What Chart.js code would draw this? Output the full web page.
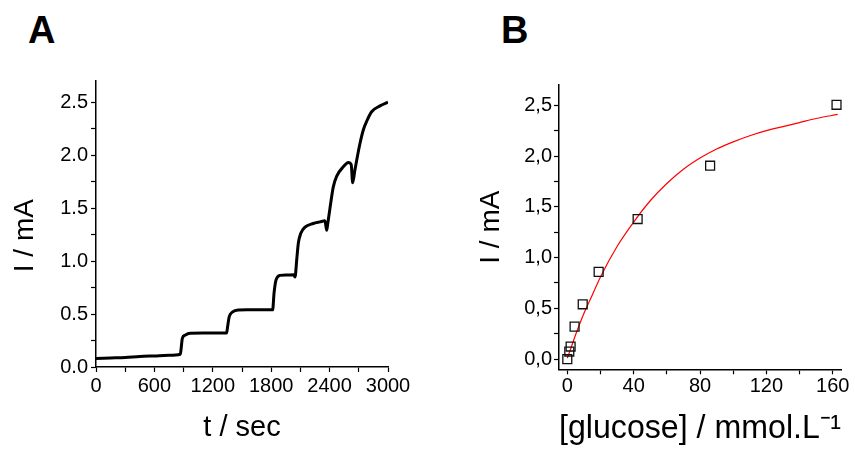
<!DOCTYPE html>
<html lang="en">
<head>
<meta charset="UTF-8">
<title>Glucose response</title>
<script src="https://cdn.jsdelivr.net/npm/chart.js"></script>
<style>
    body { margin: 0; background: #fff; }
    .painel { position: absolute; top: 0; }
    .letra { position: absolute; top: 11px; font: bold 38px/1 "Liberation Sans", Arial, sans-serif; color: #000; }
</style>
</head>
<body>
<div class="letra" style="left:28px">A</div>
<div class="letra" style="left:501px">B</div>
<canvas id="graficoA" class="painel" style="left:0" width="420" height="450"></canvas>
<canvas id="graficoB" class="painel" style="left:430px" width="425" height="450"></canvas>

<script>
    // panel A: current vs time
    var tempo = [0, 150, 300, 450, 600, 750, 866, 873, 887, 914, 966, 1100, 1250, 1342,
        1352, 1369, 1404, 1462, 1550, 1700, 1815, 1829, 1849, 1890, 1960, 2030, 2045,
        2062, 2079, 2103, 2147, 2232, 2300, 2352, 2370, 2382, 2404, 2438, 2472, 2541,
        2592, 2622, 2637, 2660, 2678, 2712, 2747, 2781, 2832, 2918, 3000];
    var corrente = [0.08, 0.085, 0.09, 0.10, 0.105, 0.11, 0.12, 0.16, 0.27, 0.30, 0.318, 0.32, 0.32, 0.32,
        0.38, 0.475, 0.52, 0.538, 0.54, 0.54, 0.54, 0.695, 0.82, 0.865, 0.868, 0.87, 0.85,
        1.01, 1.17, 1.26, 1.32, 1.355, 1.37, 1.38, 1.29, 1.36, 1.50, 1.70, 1.80, 1.89,
        1.93, 1.91, 1.74, 1.86, 1.95, 2.11, 2.24, 2.32, 2.41, 2.465, 2.50];

    // panel B: calibration points and fitted curve
    var glicose = [0, 1.2, 2.0, 4.4, 9.3, 18.9, 42.4, 86.1, 162.3];
    var correnteB = [0.0, 0.075, 0.124, 0.32, 0.54, 0.86, 1.38, 1.905, 2.505];
    var ajusteX = [0, 2, 5, 10, 15, 20, 30, 40, 50, 60, 70, 80, 90, 100, 110, 120, 130, 140, 150, 163];
    var ajusteY = [0.01, 0.10, 0.24, 0.45, 0.63, 0.81, 1.11, 1.35, 1.56, 1.73, 1.87, 1.98, 2.07, 2.14, 2.20, 2.25, 2.29, 2.33, 2.37, 2.41];

    // tick marks (all) and the ones that get a label
    var marcasTempo = [0, 300, 600, 900, 1200, 1500, 1800, 2100, 2400, 2700, 3000];
    var rotulosTempo = [0, 600, 1200, 1800, 2400, 3000];
    var marcasCorrente = [0, 0.25, 0.5, 0.75, 1, 1.25, 1.5, 1.75, 2, 2.25, 2.5];
    var rotulosCorrente = [0, 0.5, 1, 1.5, 2, 2.5];
    var marcasGlicose = [0, 20, 40, 60, 80, 100, 120, 140, 160];
    var rotulosGlicose = [0, 40, 80, 120, 160];

    var fonte = "'Liberation Sans', Arial, sans-serif";

    function eixo(min, max, marcas, rotulos, formato, tamanho, paddingRotulo, titulo) {
        return {
            type: 'linear',
            min: min,
            max: max,
            border: { color: '#000', width: 1.5 },
            grid: { drawOnChartArea: false, color: '#000', tickColor: '#000', tickLength: 5, tickWidth: 1.2 },
            ticks: {
                color: '#000',
                font: { family: fonte, size: 20 },
                padding: paddingRotulo,
                autoSkip: false,
                maxRotation: 0,
                callback: function (v) {
                    return rotulos.indexOf(v) >= 0 ? formato(v) : '';
                }
            },
            afterBuildTicks: function (scale) {
                scale.ticks = marcas.map(function (v) { return { value: v }; });
            },
            afterFit: function (scale) {
                if (scale.isHorizontal()) scale.height = tamanho;
                else scale.width = tamanho;
            },
            title: titulo
        };
    }

    var pontosA = tempo.map(function (t, i) { return { x: t, y: corrente[i] }; });

    new Chart(document.getElementById('graficoA'), {
        type: 'scatter',
        data: {
            datasets: [{
                data: pontosA,
                showLine: true,
                borderColor: '#000',
                borderWidth: 3,
                pointRadius: 0,
                cubicInterpolationMode: 'monotone'
            }]
        },
        options: {
            responsive: false,
            animation: false,
            layout: { padding: { left: 0, top: 81, right: 32, bottom: 0 } },
            plugins: { legend: { display: false }, tooltip: { enabled: false } },
            scales: {
                x: eixo(0, 3000, marcasTempo, rotulosTempo, function (v) { return String(v); }, 83, 2,
                    { display: true, text: 't / sec', color: '#000', font: { family: fonte, size: 29 }, padding: { top: 0, bottom: 5 } }),
                // trailing spaces push the rotated title a little lower, as in the original
                y: eixo(0, 2.7, marcasCorrente, rotulosCorrente, function (v) { return v.toFixed(1); }, 96, 3,
                    { display: true, text: 'I / mA   ', color: '#000', font: { family: fonte, size: 28 }, padding: { top: 8, bottom: 0 } })
            }
        }
    });

    var medidas = glicose.map(function (g, i) { return { x: g, y: correnteB[i] }; });
    var ajuste = ajusteX.map(function (g, i) { return { x: g, y: ajusteY[i] }; });

    new Chart(document.getElementById('graficoB'), {
        type: 'scatter',
        data: {
            datasets: [{
                data: medidas,
                pointStyle: 'rect',
                pointRadius: 6.3,
                borderColor: '#111',
                backgroundColor: 'rgba(0,0,0,0)',
                borderWidth: 1.3,
                clip: false,
                order: 0
            }, {
                data: ajuste,
                showLine: true,
                borderColor: '#ff0000',
                borderWidth: 1.2,
                pointRadius: 0,
                cubicInterpolationMode: 'monotone',
                order: 1
            }]
        },
        options: {
            responsive: false,
            animation: false,
            layout: { padding: { left: 0, top: 85, right: 14, bottom: 0 } },
            plugins: { legend: { display: false }, tooltip: { enabled: false } },
            scales: {
                x: eixo(-5, 165, marcasGlicose, rotulosGlicose, function (v) { return String(v); }, 80.7, 0,
                    { display: true, text: '[glucose] / mmol.L\u207B\u00B9', color: '#000', font: { family: fonte, size: 34 }, padding: { top: 0, bottom: 1 } }),
                y: eixo(-0.1, 2.7, marcasCorrente, rotulosCorrente, function (v) { return v.toFixed(1).replace('.', ','); }, 129, 2,
                    { display: true, text: 'I / mA', color: '#000', font: { family: fonte, size: 28 }, padding: { top: 44, bottom: 0 } })
            }
        }
    });
</script>
</body>
</html>
